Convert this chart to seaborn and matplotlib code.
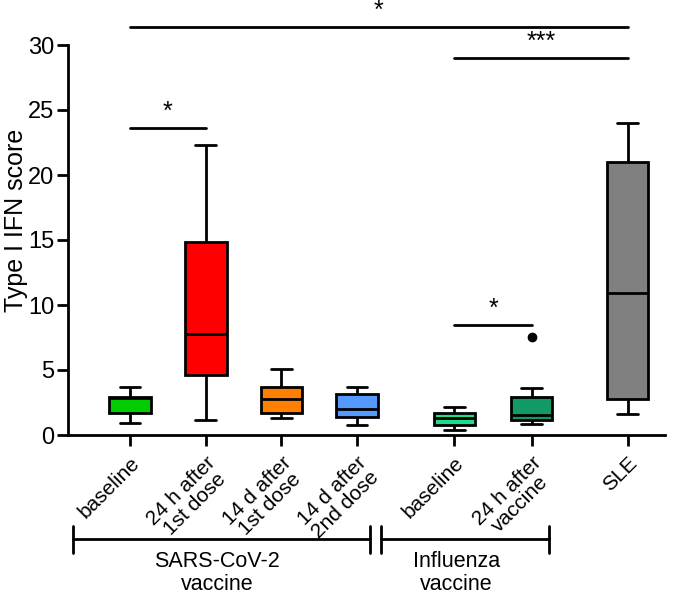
import pandas as pd
import matplotlib.pyplot as plt
import seaborn as sns
from matplotlib.transforms import blended_transform_factory

# --- Data ---
groups = ["SARS baseline", "SARS 24 h", "SARS 14 d 1st", "SARS 14 d 2nd",
          "Flu baseline", "Flu 24 h", "SLE"]
tick_labels = ["baseline", "24 h after\n1st dose", "14 d after\n1st dose",
               "14 d after\n2nd dose", "baseline", "24 h after\nvaccine", "SLE"]

sars_baseline = [0.95, 1.7, 2.85, 2.95, 3.7]
sars_24h_1st = [1.15, 4.6, 7.8, 14.85, 22.3]
sars_14d_1st = [1.3, 1.7, 2.75, 3.7, 5.05]
sars_14d_2nd = [0.75, 1.4, 2.0, 3.15, 3.7]
flu_baseline = [0.38, 0.77, 1.3, 1.7, 2.15]
flu_24h = [0.85, 1.0, 1.15, 1.4, 1.55, 2.4, 2.9, 3.6, 7.55]
sle = [1.6, 2.77, 10.9, 21.0, 24.0]

group_values = [sars_baseline, sars_24h_1st, sars_14d_1st, sars_14d_2nd,
                flu_baseline, flu_24h, sle]

# --- Layout / style (kept apart from the data) ---
x_pos = [0, 1, 2, 3, 4.29, 5.31, 6.58]
colors = ["#00CC00", "#FF0000", "#FF8000", "#5599FF", "#22DD88", "#119966", "#808080"]

# significance bars: (group from, group to, height, label)
sig_bars = [(0, 1, 23.6, "*"), (4, 5, 8.45, "*"), (4, 6, 29.0, "***"), (0, 6, 31.4, "*")]

rows = []
for name, pos, vals in zip(groups, x_pos, group_values):
    for v in vals:
        rows.append({"group": name, "pos": pos, "score": v})
df = pd.DataFrame(rows)

sns.set_style("ticks")
plt.rcParams["font.family"] = ["Liberation Sans", "DejaVu Sans"]
# plain black text and axes like the original figure
for key in ["text.color", "axes.labelcolor", "xtick.color", "ytick.color", "axes.edgecolor"]:
    plt.rcParams[key] = "black"

fig = plt.figure(figsize=(6.81, 6.0), dpi=100)
ax = fig.add_axes([0.1, 0.275, 0.876, 0.65])

sns.boxplot(
    data=df, x="pos", y="score", hue="group", hue_order=groups,
    palette=dict(zip(groups, colors)), saturation=1, native_scale=True, dodge=False,
    width=0.55, linewidth=2, linecolor="black", legend=False, ax=ax,
    flierprops={"marker": "o", "markerfacecolor": "black",
                "markeredgecolor": "black", "markersize": 6},
)

ax.set_xlim(-0.82, 7.07)
ax.set_ylim(0, 30)
ax.set_yticks([0, 5, 10, 15, 20, 25, 30])
ax.tick_params(axis="y", labelsize=17, length=8, width=2, pad=2)
ax.tick_params(axis="x", length=8, width=2, pad=5)
ax.set_xticks(x_pos)
ax.set_xticklabels(tick_labels, rotation=45, ha="right", va="top",
                   rotation_mode="anchor", fontsize=15, ma="center", linespacing=1.0)
ax.set_xlabel("")
ax.set_ylabel("Type I IFN score", fontsize=18)
ax.yaxis.set_label_coords(-0.068, 0.55)
sns.despine(ax=ax)
for side in ["left", "bottom"]:
    ax.spines[side].set_linewidth(2)
    ax.spines[side].set_color("black")

# significance bars
for a, b, y, label in sig_bars:
    ax.plot([x_pos[a], x_pos[b]], [y, y], color="black", lw=2, clip_on=False)
    ax.text((x_pos[a] + x_pos[b]) / 2, y + 0.3, label, ha="center", va="bottom",
            fontsize=18)

# group brackets under the axis
trans = blended_transform_factory(ax.transData, ax.transAxes)
brackets = [(-0.753, 3.17, 1.15, "SARS-CoV-2\nvaccine"),
            (3.32, 5.535, 4.32, "Influenza\nvaccine")]
for x1, x2, xm, label in brackets:
    ax.plot([x1, x2], [-0.267, -0.267], color="black", lw=2, transform=trans, clip_on=False)
    for xe in (x1, x2):
        ax.plot([xe, xe], [-0.233, -0.303], color="black", lw=2, transform=trans, clip_on=False)
    ax.text(xm, -0.298, label, ha="center", va="top", fontsize=15.5,
            transform=trans, linespacing=1.08)

fig.savefig("out.png", dpi=100)
